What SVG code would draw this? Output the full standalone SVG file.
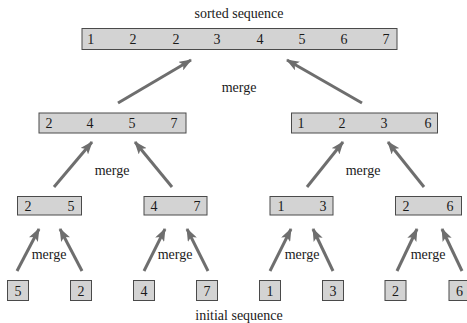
<svg xmlns="http://www.w3.org/2000/svg" width="467" height="323" viewBox="0 0 467 323">
<style>
text{font-size:14px;fill:#1a1a1a;text-anchor:middle}
.box{fill:#d3d3d3;stroke:#4a4a4a;stroke-width:1}
.arr{stroke:#6e6e6e;stroke-width:3;fill:none;marker-end:url(#ah)}
</style>
<defs>
<marker id="ah" markerUnits="userSpaceOnUse" viewBox="0 0 13 10" markerWidth="13" markerHeight="10" refX="12" refY="5" orient="auto">
<path d="M0,0 L13,5 L0,10 L3,5 z" fill="#6e6e6e"/>
</marker>
</defs>
<rect width="467" height="323" fill="#fff"/>
<g font-family="'Liberation Serif', 'DejaVu Serif', serif">
<text x="239" y="18">sorted sequence</text>
<text x="239" y="320">initial sequence</text>
<g id="connectors">
<line class="arr" x1="118" y1="103" x2="191" y2="60"/>
<line class="arr" x1="362" y1="103" x2="287" y2="60"/>
<line class="arr" x1="54" y1="187" x2="92" y2="142"/>
<line class="arr" x1="172" y1="187" x2="135" y2="142"/>
<line class="arr" x1="307" y1="187" x2="343" y2="142"/>
<line class="arr" x1="424" y1="187" x2="388" y2="142"/>
<line class="arr" x1="17" y1="271" x2="39" y2="229"/>
<line class="arr" x1="82" y1="271" x2="60" y2="229"/>
<line class="arr" x1="144" y1="271" x2="165" y2="229"/>
<line class="arr" x1="208" y1="271" x2="187" y2="229"/>
<line class="arr" x1="270" y1="271" x2="291" y2="229"/>
<line class="arr" x1="333" y1="271" x2="313" y2="229"/>
<line class="arr" x1="397" y1="271" x2="417" y2="229"/>
<line class="arr" x1="462" y1="271" x2="442" y2="229"/>
<text x="239" y="92">merge</text>
<text x="112" y="175">merge</text>
<text x="363" y="175">merge</text>
<text x="49" y="259">merge</text>
<text x="175" y="259">merge</text>
<text x="302" y="259">merge</text>
<text x="428" y="259">merge</text>
</g>
<g id="sorted">
<rect class="box" x="82" y="28.5" width="315" height="21"/>
<text x="90.7" y="44">1</text><text x="133" y="44">2</text><text x="176" y="44">2</text><text x="217" y="44">3</text>
<text x="260" y="44">4</text><text x="302" y="44">5</text><text x="344" y="44">6</text><text x="386" y="44">7</text>
</g>
<g id="m2457">
<rect class="box" x="39" y="113" width="147" height="20"/>
<text x="49" y="128">2</text><text x="90" y="128">4</text><text x="132" y="128">5</text><text x="174" y="128">7</text>
</g>
<g id="m1236">
<rect class="box" x="291.5" y="113" width="146" height="20"/>
<text x="301" y="128">1</text><text x="342" y="128">2</text><text x="384" y="128">3</text><text x="428" y="128">6</text>
</g>
<g id="m25">
<rect class="box" x="17.5" y="196.5" width="64" height="18.5"/>
<text x="28" y="211">2</text><text x="71" y="211">5</text>
</g>
<g id="m47">
<rect class="box" x="144" y="196.5" width="63" height="18.5"/>
<text x="154" y="211">4</text><text x="197" y="211">7</text>
</g>
<g id="m13">
<rect class="box" x="270" y="196.5" width="63" height="18.5"/>
<text x="281" y="211">1</text><text x="323" y="211">3</text>
</g>
<g id="m26">
<rect class="box" x="395.5" y="196.5" width="66" height="18.5"/>
<text x="406" y="211">2</text><text x="450" y="211">6</text>
</g>
<g id="i5"><rect class="box" x="7.5" y="280.5" width="21" height="20"/><text x="18" y="296">5</text></g>
<g id="i2a"><rect class="box" x="70.5" y="280.5" width="21" height="20"/><text x="81" y="296">2</text></g>
<g id="i4"><rect class="box" x="133.5" y="280.5" width="21" height="20"/><text x="144" y="296">4</text></g>
<g id="i7"><rect class="box" x="196.5" y="280.5" width="21" height="20"/><text x="207" y="296">7</text></g>
<g id="i1"><rect class="box" x="259.5" y="280.5" width="21" height="20"/><text x="270" y="296">1</text></g>
<g id="i3"><rect class="box" x="322.5" y="280.5" width="21" height="20"/><text x="333" y="296">3</text></g>
<g id="i2b"><rect class="box" x="385" y="280.5" width="21" height="20"/><text x="395.5" y="296">2</text></g>
<g id="i6"><rect class="box" x="449" y="280.5" width="21" height="20"/><text x="459.5" y="296">6</text></g>
</g>
</svg>
